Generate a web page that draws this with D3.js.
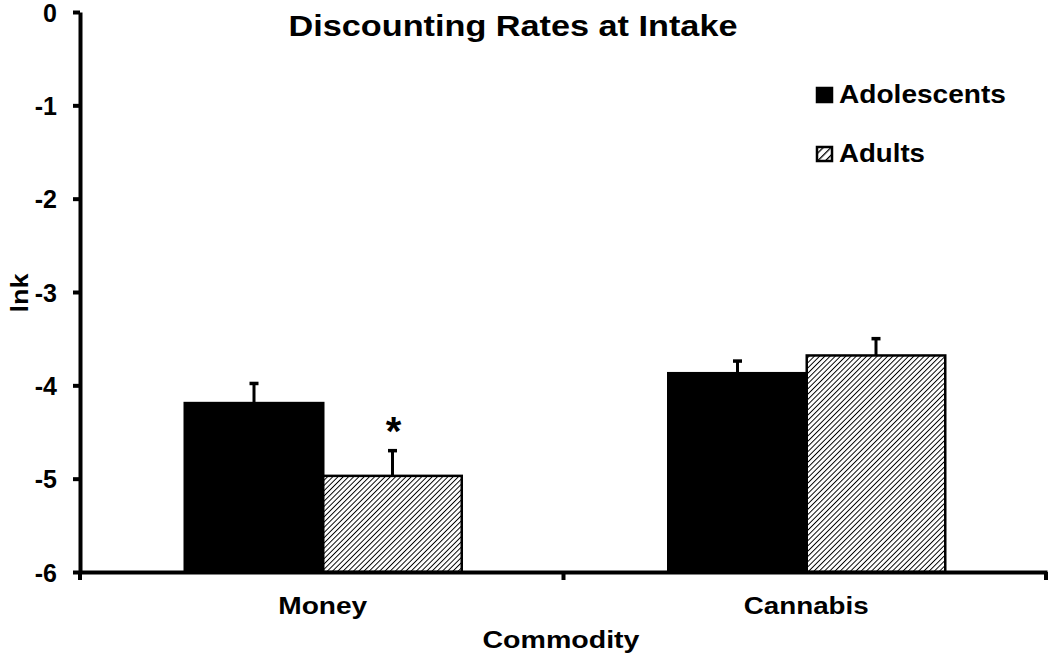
<!DOCTYPE html>
<html>
<head>
<meta charset="utf-8">
<script src="https://cdn.jsdelivr.net/npm/d3@7"></script>
<style>
body { margin: 0; background: #fff; }
text { font-family: "Liberation Sans", Arial, sans-serif; font-weight: bold; fill: #000; }
</style>
</head>
<body>
<script>
// data
const commodities = ["Money", "Cannabis"];
const groups = ["Adolescents", "Adults"];
const adolescentMeans = [-4.19, -3.87];
const adultMeans = [-4.97, -3.68];
const adolescentErr = [0.21, 0.13];
const adultErr = [0.27, 0.18];
const yTicks = [0, -1, -2, -3, -4, -5, -6];

const margin = {top: 12, right: 3, bottom: 88, left: 80},
  width = 1050 - margin.left - margin.right,
  height = 660 - margin.top - margin.bottom;

const svg = d3.select("body").append("svg")
  .attr("width", 1050).attr("height", 660);

// stretch text horizontally to the width seen in the picture
const fit = (sel, w) => sel.attr("textLength", w).attr("lengthAdjust", "spacingAndGlyphs");

const defs = svg.append("defs");
const hatch = (id, size, sw) => {
  const p = defs.append("pattern")
    .attr("id", id).attr("patternUnits", "userSpaceOnUse")
    .attr("width", size).attr("height", size)
    .attr("patternTransform", "rotate(45)");
  p.append("rect").attr("width", size).attr("height", size).attr("fill", "#fff");
  p.append("line").attr("x1", 0).attr("y1", 0).attr("x2", 0).attr("y2", size)
    .attr("stroke", "#000").attr("stroke-width", sw);
};
hatch("hatch", 3.7, 1.9);
hatch("hatchBig", 5.5, 2.6);

const g = svg.append("g").attr("transform", `translate(${margin.left},${margin.top})`);

const x = d3.scaleBand().domain(commodities).range([0, width]);
const xs = d3.scaleBand().domain(groups).range([0, 277]);
const y = d3.scaleLinear().domain([-6, 0]).range([height, 0]);

const data = [];
commodities.forEach((c, i) => {
  data.push({c, grp: "Adolescents", v: adolescentMeans[i], e: adolescentErr[i]});
  data.push({c, grp: "Adults", v: adultMeans[i], e: adultErr[i]});
});
const off = (x.bandwidth() - 277) / 2 + 1.5;
const cx = d => x(d.c) + off + xs(d.grp) + xs.bandwidth() / 2;

// bars
g.selectAll("rect.bar").data(data).join("rect")
  .attr("class", "bar")
  .attr("x", d => x(d.c) + off + xs(d.grp))
  .attr("y", d => y(d.v))
  .attr("width", xs.bandwidth())
  .attr("height", d => y(-6) - y(d.v))
  .attr("fill", d => d.grp === "Adolescents" ? "#000" : "url(#hatch)")
  .attr("stroke", "#000").attr("stroke-width", 2.5);

// error bars (upper only)
const eb = g.selectAll("g.err").data(data).join("g").attr("class", "err");
eb.append("line")
  .attr("x1", cx).attr("x2", cx)
  .attr("y1", d => y(d.v)).attr("y2", d => y(d.v + d.e))
  .attr("stroke", "#000").attr("stroke-width", 3);
eb.append("line")
  .attr("x1", d => cx(d) - 4.5).attr("x2", d => cx(d) + 4.5)
  .attr("y1", d => y(d.v + d.e)).attr("y2", d => y(d.v + d.e))
  .attr("stroke", "#000").attr("stroke-width", 3.5);

// asterisk over Money adults
g.append("text")
  .attr("x", cx(data[1]) + 1)
  .attr("y", y(adultMeans[0] + adultErr[0]) - 6)
  .attr("text-anchor", "middle").style("font-size", "40px").text("*");

// y axis
const yAxis = g.append("g")
  .call(d3.axisLeft(y).tickValues(yTicks).tickFormat(d => String(d)).tickSize(7).tickSizeOuter(0));
yAxis.select(".domain").attr("stroke-width", 4);
yAxis.selectAll(".tick line").attr("stroke-width", 4);
yAxis.selectAll(".tick text").attr("x", -23).attr("dy", "0.36em")
  .style("font-size", "25px").style("font-family", "'Liberation Sans', Arial, sans-serif")
  .style("font-weight", "bold").attr("fill", "#000");

// x axis
const xAxis = g.append("g").attr("transform", `translate(0,${height})`)
  .call(d3.axisBottom(x).tickSize(0).tickSizeOuter(0).tickFormat(() => ""));
xAxis.select(".domain").attr("stroke-width", 4);
// category boundary ticks
g.selectAll("line.bt").data([0, x.bandwidth(), width - 1]).join("line")
  .attr("class", "bt")
  .attr("x1", d => d).attr("x2", d => d)
  .attr("y1", height).attr("y2", height + 8)
  .attr("stroke", "#000").attr("stroke-width", 4);

const catW = {Money: 89, Cannabis: 125};
g.selectAll("text.cat").data(commodities).join("text")
  .attr("class", "cat")
  .attr("x", d => x(d) + x.bandwidth() / 2 + 1)
  .attr("y", height + 42)
  .attr("text-anchor", "middle").style("font-size", "23px")
  .text(d => d)
  .each(function(d) { fit(d3.select(this), catW[d]); });

// titles
fit(svg.append("text").attr("x", 513).attr("y", 36).attr("text-anchor", "middle")
  .style("font-size", "29px").text("Discounting Rates at Intake"), 449);
fit(svg.append("text").attr("x", 561).attr("y", 648).attr("text-anchor", "middle")
  .style("font-size", "23px").text("Commodity"), 157);
fit(svg.append("text").attr("transform", "translate(28,293) rotate(-90)")
  .attr("text-anchor", "middle").style("font-size", "23px").text("lnk"), 39);

// legend
const legW = {Adolescents: 167, Adults: 86};
const leg = svg.append("g").selectAll("g").data(groups).join("g")
  .attr("transform", (d, i) => `translate(816,${87 + i * 59})`);
leg.append("rect").attr("x", 1).attr("y", 1).attr("width", 15).attr("height", 14)
  .attr("fill", d => d === "Adolescents" ? "#000" : "url(#hatchBig)")
  .attr("stroke", "#000").attr("stroke-width", 2.5);
leg.append("text").attr("x", 23).attr("y", 16).style("font-size", "25px")
  .text(d => d)
  .each(function(d) { fit(d3.select(this), legW[d]); });
</script>
</body>
</html>
